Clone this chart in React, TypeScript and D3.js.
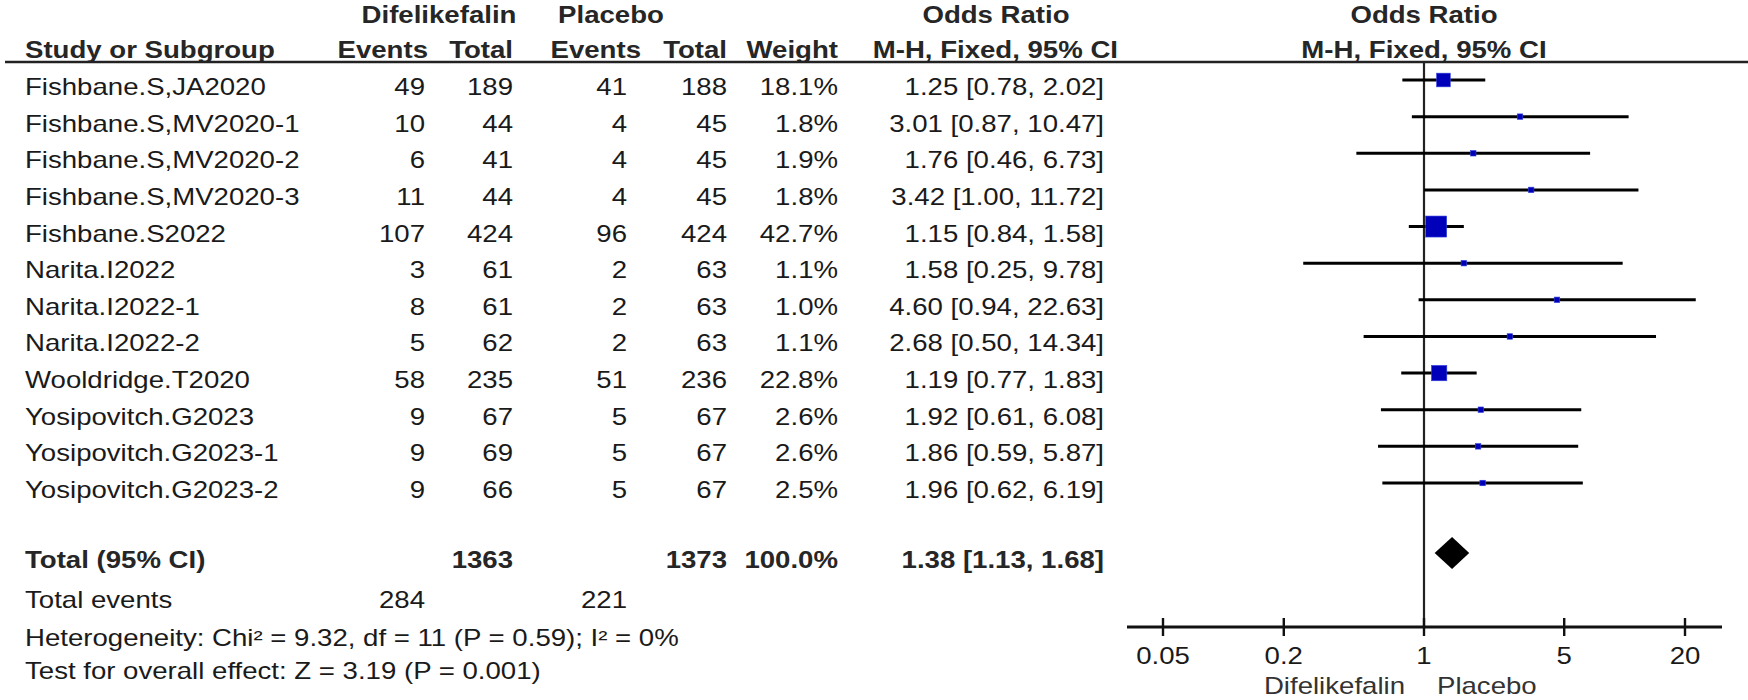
import React from 'react'
import * as d3 from 'd3'

const studies = [
  'Fishbane.S,JA2020', 'Fishbane.S,MV2020-1', 'Fishbane.S,MV2020-2', 'Fishbane.S,MV2020-3',
  'Fishbane.S2022', 'Narita.I2022', 'Narita.I2022-1', 'Narita.I2022-2',
  'Wooldridge.T2020', 'Yosipovitch.G2023', 'Yosipovitch.G2023-1', 'Yosipovitch.G2023-2',
]
const difEvents = [49, 10, 6, 11, 107, 3, 8, 5, 58, 9, 9, 9]
const difTotal = [189, 44, 41, 44, 424, 61, 61, 62, 235, 67, 69, 66]
const plaEvents = [41, 4, 4, 4, 96, 2, 2, 2, 51, 5, 5, 5]
const plaTotal = [188, 45, 45, 45, 424, 63, 63, 63, 236, 67, 67, 67]
const weights = [18.1, 1.8, 1.9, 1.8, 42.7, 1.1, 1.0, 1.1, 22.8, 2.6, 2.6, 2.5]
const oddsRatio = [1.25, 3.01, 1.76, 3.42, 1.15, 1.58, 4.6, 2.68, 1.19, 1.92, 1.86, 1.96]
const ciLow = [0.78, 0.87, 0.46, 1.0, 0.84, 0.25, 0.94, 0.5, 0.77, 0.61, 0.59, 0.62]
const ciHigh = [2.02, 10.47, 6.73, 11.72, 1.58, 9.78, 22.63, 14.34, 1.83, 6.08, 5.87, 6.19]

const total = { difTotal: 1363, plaTotal: 1373, weight: 100.0, or: 1.38, lo: 1.13, hi: 1.68, difEvents: 284, plaEvents: 221 }
const tickValues = [0.05, 0.2, 1, 5, 20]
const heterogeneity = 'Heterogeneity: Chi² = 9.32, df = 11 (P = 0.59); I² = 0%'
const overall = 'Test for overall effect: Z = 3.19 (P = 0.001)'

const font = '"Liberation Sans", Arial, sans-serif'
const txt = '#1a1a1a'
const sx = 1.2 // the source picture is stretched sideways

function T(props: { x: number, y: number, anchor?: string, bold?: boolean, fill?: string, children: any }) {
  return (
    <text transform={`translate(${props.x},${props.y}) scale(${sx},1)`}
      textAnchor={props.anchor || 'start'} fontWeight={props.bold ? 'bold' : 'normal'}
      fill={props.fill || (props.bold ? '#262626' : txt)}>
      {props.children}
    </text>
  )
}

export default function App() {
  const width = 1748
  const height = 700

  const x = d3.scaleLog().domain([0.05, 20]).range([1163, 1685])
  const yLine = d3.scaleLinear().domain([0, 11]).range([80, 483])
  const textShift = 7
  const side = (w: number) => Math.max(5.5, 21 * Math.sqrt(w / 42.7))

  const yTotal = 560
  const yEvents = 600
  const yHet = 638
  const yTest = 671
  const axisY = 627
  const lineTop = 62
  const base = 8

  const fmt2 = d3.format('.2f')
  const fmtW = (w: number) => w.toFixed(1) + '%'
  const ciText = (o: number, l: number, h: number) => `${fmt2(o)} [${fmt2(l)}, ${fmt2(h)}]`

  // right-aligned column edges
  const left = 25
  const cols = { dE: 425, dT: 513, pE: 627, pT: 727, w: 838, or: 1104 }

  return (
    <svg width={width} height={height} style={{ position: 'absolute', left: 0, top: 0, background: '#fff' }}
      fontFamily={font} fontSize={23}>
      {/* headers */}
      <T x={439} y={15 + base} anchor="middle" bold>Difelikefalin</T>
      <T x={611} y={15 + base} anchor="middle" bold>Placebo</T>
      <T x={996} y={15 + base} anchor="middle" bold>Odds Ratio</T>
      <T x={x(1)} y={15 + base} anchor="middle" bold>Odds Ratio</T>
      <T x={left} y={50 + base} bold>Study or Subgroup</T>
      <T x={428} y={50 + base} anchor="end" bold>Events</T>
      <T x={513} y={50 + base} anchor="end" bold>Total</T>
      <T x={641} y={50 + base} anchor="end" bold>Events</T>
      <T x={727} y={50 + base} anchor="end" bold>Total</T>
      <T x={838} y={50 + base} anchor="end" bold>Weight</T>
      <T x={1118} y={50 + base} anchor="end" bold>M-H, Fixed, 95% CI</T>
      <T x={x(1)} y={50 + base} anchor="middle" bold>M-H, Fixed, 95% CI</T>
      <line x1={5} x2={width} y1={lineTop} y2={lineTop} stroke="#222" strokeWidth={2.4} />

      {/* study rows */}
      {studies.map((s, i) => {
        const yy = yLine(i) + textShift + base
        return (
          <g key={s}>
            <T x={left} y={yy}>{s}</T>
            <T x={cols.dE} y={yy} anchor="end">{difEvents[i]}</T>
            <T x={cols.dT} y={yy} anchor="end">{difTotal[i]}</T>
            <T x={cols.pE} y={yy} anchor="end">{plaEvents[i]}</T>
            <T x={cols.pT} y={yy} anchor="end">{plaTotal[i]}</T>
            <T x={cols.w} y={yy} anchor="end">{fmtW(weights[i])}</T>
            <T x={cols.or} y={yy} anchor="end">{ciText(oddsRatio[i], ciLow[i], ciHigh[i])}</T>
          </g>
        )
      })}

      {/* total row */}
      <T x={left} y={yTotal + base} bold>Total (95% CI)</T>
      <T x={cols.dT} y={yTotal + base} anchor="end" bold>{total.difTotal}</T>
      <T x={cols.pT} y={yTotal + base} anchor="end" bold>{total.plaTotal}</T>
      <T x={cols.w} y={yTotal + base} anchor="end" bold>{fmtW(total.weight)}</T>
      <T x={cols.or} y={yTotal + base} anchor="end" bold>{ciText(total.or, total.lo, total.hi)}</T>
      <T x={left} y={yEvents + base}>Total events</T>
      <T x={cols.dE} y={yEvents + base} anchor="end">{total.difEvents}</T>
      <T x={cols.pE} y={yEvents + base} anchor="end">{total.plaEvents}</T>
      <T x={left} y={yHet + base}>{heterogeneity}</T>
      <T x={left} y={yTest + base}>{overall}</T>

      {/* forest plot */}
      <line x1={x(1)} x2={x(1)} y1={lineTop} y2={axisY} stroke="#222" strokeWidth={2.2} />
      {studies.map((s, i) => {
        const sz = side(weights[i])
        return (
          <g key={'m' + s}>
            <line x1={x(ciLow[i])} x2={x(ciHigh[i])} y1={yLine(i)} y2={yLine(i)} stroke="#000" strokeWidth={3} />
            <rect x={x(oddsRatio[i]) - sz / 2} y={yLine(i) - sz / 2} width={sz} height={sz}
              fill="#0000BB" stroke="#3344DD" strokeWidth={0.6} />
          </g>
        )
      })}
      <polygon fill="#000"
        points={[
          [x(total.lo), yTotal - textShift], [x(total.or), yTotal - textShift - 16],
          [x(total.hi), yTotal - textShift], [x(total.or), yTotal - textShift + 16],
        ].map(p => p.join(',')).join(' ')} />

      {/* axis */}
      <line x1={1127} x2={1722} y1={axisY} y2={axisY} stroke="#111" strokeWidth={3} />
      {tickValues.map(t => (
        <g key={t}>
          <line x1={x(t)} x2={x(t)} y1={axisY - 9} y2={axisY + 9} stroke="#111" strokeWidth={2.4} />
          <T x={x(t)} y={656 + base} anchor="middle">{t}</T>
        </g>
      ))}
      <T x={x(1) - 19} y={686 + base} anchor="end" fill="#333">Difelikefalin</T>
      <T x={x(1) + 13} y={686 + base} fill="#333">Placebo</T>
    </svg>
  )
}
